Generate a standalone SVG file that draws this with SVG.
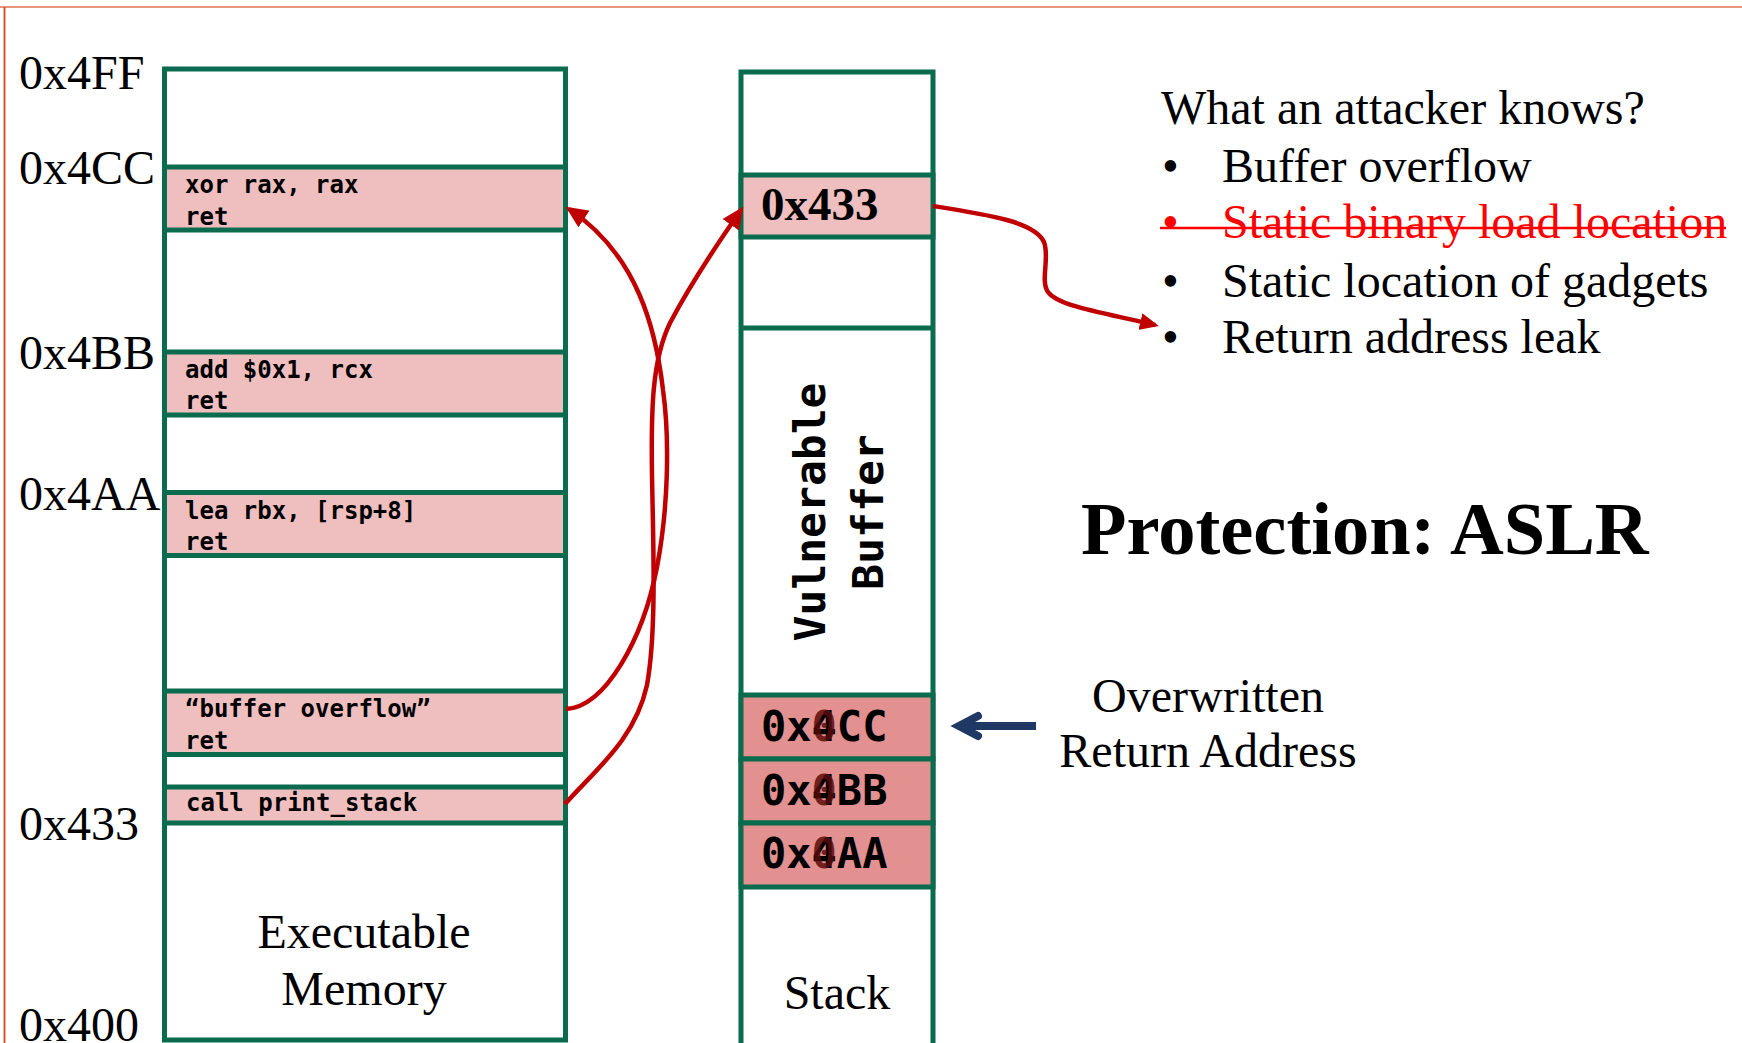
<svg xmlns="http://www.w3.org/2000/svg" width="1742" height="1043" viewBox="0 0 1742 1043">
<style>
.box{fill:#fff;stroke:#0A6B4E;stroke-width:5}
.blk{fill:#EFBFBF;stroke:#0A6B4E;stroke-width:5}
.blk2{fill:#E29090;stroke:#0A6B4E;stroke-width:5}
.gl{stroke:#0A6B4E;stroke-width:5}
.code{font-family:"DejaVu Sans Mono","Liberation Mono",monospace;font-weight:bold;font-size:24px;fill:#000}
.big{font-family:"DejaVu Sans Mono","Liberation Mono",monospace;font-weight:bold;font-size:42px;fill:#000}
.vb{font-size:43px}
.ovl{fill:#5A0C0C;fill-opacity:0.85}
.ser{font-family:"Liberation Serif","Times New Roman",serif;font-size:48px;fill:#000}
.rd{fill:#FF0000}
.bold47{font-weight:bold;font-size:47px}
.ttl{font-weight:bold;font-size:74.5px}
.red{stroke:#C00000;stroke-width:4.5;fill:none}
</style>
<defs>
<marker id="ah" markerUnits="userSpaceOnUse" markerWidth="22" markerHeight="20" viewBox="0 0 22 20" refX="18" refY="10" orient="auto">
<path d="M0,0 L22,10 L0,20 z" fill="#C00000"/>
</marker>
<marker id="ah2" markerUnits="userSpaceOnUse" markerWidth="19" markerHeight="17" viewBox="0 0 19 17" refX="15" refY="8.5" orient="auto">
<path d="M0,0 L19,8.5 L0,17 z" fill="#C00000"/>
</marker>
</defs>
<rect width="1742" height="1043" fill="#fff"/>
<line x1="0" y1="7" x2="1742" y2="7" stroke="#E8937A" stroke-width="2"/>
<line x1="4.5" y1="7" x2="4.5" y2="1043" stroke="#D4461C" stroke-width="1.8"/>

<g id="addr-labels">
<text class="ser" x="19" y="89">0x4FF</text>
<text class="ser" x="19" y="184">0x4CC</text>
<text class="ser" x="19" y="369">0x4BB</text>
<text class="ser" x="19" y="510">0x4AA</text>
<text class="ser" x="19" y="840">0x433</text>
<text class="ser" x="19" y="1041">0x400</text>
</g>

<g id="exec-memory">
<rect class="box" x="164.5" y="69" width="401" height="971"/>
<text class="ser" x="364" y="948" text-anchor="middle">Executable</text>
<text class="ser" x="364" y="1005" text-anchor="middle">Memory</text>
</g>
<g id="gadget-xor">
<rect class="blk" x="164.5" y="167" width="401" height="63"/>
<text class="code" x="185" y="193">xor rax, rax</text>
<text class="code" x="185" y="225">ret</text>
</g>
<g id="gadget-add">
<rect class="blk" x="164.5" y="352" width="401" height="63"/>
<text class="code" x="185" y="378">add $0x1, rcx</text>
<text class="code" x="185" y="409">ret</text>
</g>
<g id="gadget-lea">
<rect class="blk" x="164.5" y="492.5" width="401" height="63"/>
<text class="code" x="185" y="519">lea rbx, [rsp+8]</text>
<text class="code" x="185" y="550">ret</text>
</g>
<g id="gadget-bo">
<rect class="blk" x="164.5" y="691" width="401" height="63.5"/>
<text class="code" x="185" y="717">“buffer overflow”</text>
<text class="code" x="185" y="749">ret</text>
</g>
<g id="call-print">
<rect class="blk" x="164.5" y="787" width="401" height="36"/>
<text class="code" x="186" y="811">call print_stack</text>
</g>

<g id="stack">
<rect class="box" x="741" y="72" width="192" height="1000"/>
<line class="gl" x1="741" y1="328" x2="933" y2="328"/>
<text class="ser" x="837" y="1009" text-anchor="middle">Stack</text>
</g>
<g id="stack-ret">
<rect class="blk" x="741" y="175" width="192" height="62"/>
<text class="ser bold47" x="761" y="220">0x433</text>
</g>
<g id="vuln-buffer">
<text class="big vb" transform="translate(825,512) rotate(-90)" text-anchor="middle">Vulnerable</text>
<text class="big vb" transform="translate(883,512) rotate(-90)" text-anchor="middle">Buffer</text>
</g>
<g id="stack-cc">
<rect class="blk2" x="741" y="695" width="192" height="64"/>
<text class="big" x="761" y="740.5">0x4CC</text>
<text class="big ovl" x="811.6" y="740.5">0</text>
</g>
<g id="stack-bb">
<rect class="blk2" x="741" y="759" width="192" height="64"/>
<text class="big" x="761" y="805">0x4BB</text>
<text class="big ovl" x="811.6" y="805">0</text>
</g>
<g id="stack-aa">
<rect class="blk2" x="741" y="823" width="192" height="64"/>
<text class="big" x="761" y="868">0x4AA</text>
<text class="big ovl" x="811.6" y="868">0</text>
</g>

<g id="knows">
<text class="ser" x="1161" y="124">What an attacker knows?</text>
<text class="ser" x="1162" y="182">•</text>
<text class="ser" x="1222" y="182">Buffer overflow</text>
<text class="ser rd" x="1162" y="238">•</text>
<text class="ser rd" x="1222" y="238">Static binary load location</text>
<line x1="1160" y1="228" x2="1726" y2="228" stroke="#FF0000" stroke-width="2.6"/>
<text class="ser" x="1162" y="297">•</text>
<text class="ser" x="1222" y="297">Static location of gadgets</text>
<text class="ser" x="1162" y="353">•</text>
<text class="ser" x="1222" y="353">Return address leak</text>
</g>

<g id="title">
<text class="ser ttl" x="1081" y="554">Protection: ASLR</text>
</g>
<g id="overwritten-label">
<text class="ser" x="1208" y="712" text-anchor="middle">Overwritten</text>
<text class="ser" x="1208" y="767" text-anchor="middle">Return Address</text>
</g>

<g id="connectors">
<path class="red" marker-end="url(#ah)" d="M566,709 C605,707 643,640 657,567 C668,510 670,440 663,390 C656,330 638,255 569,209"/>
<path class="red" marker-end="url(#ah)" d="M565,804 C595,770 635,740 647,685 C657,630 653,540 652,474 C651,410 652,360 670,323 C690,285 720,240 741,210"/>
<path class="red" marker-end="url(#ah2)" d="M933,206 C990,215 1035,222 1044,242 C1050,258 1040,280 1048,292 C1058,306 1100,312 1155,325"/>
<g stroke="#1F3864" stroke-width="8" fill="none" stroke-linecap="round">
<line x1="1036" y1="726" x2="962" y2="726" stroke-linecap="butt"/>
<polyline points="978,716 959,726 978,736" stroke-linejoin="miter"/>
</g>
</g>
</svg>
